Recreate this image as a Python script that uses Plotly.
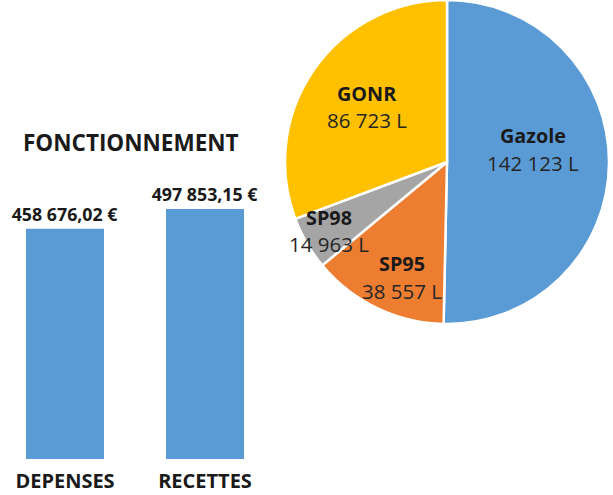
import math
import plotly.graph_objects as go

# ---- data ----
bar_categories = ["DEPENSES", "RECETTES"]
bar_values = [458676.02, 497853.15]
bar_title = "FONCTIONNEMENT"

pie_labels = ["Gazole", "SP95", "SP98", "GONR"]
pie_values = [142123, 38557, 14963, 86723]
pie_value_text = ["142 123 L", "38 557 L", "14 963 L", "86 723 L"]

# ---- style ----
W, H = 613, 495
BLUE = "#5B9BD5"
pie_colors = ["#5B9BD5", "#ED7D31", "#A5A5A5", "#FFC000"]
FONT = "Open Sans"
label_r = [0.536, 0.764, 0.845, 0.598]      # label distance as fraction of radius
label_da = [-9.0, -4.6, 0.0, 0.0]           # angle tweak (degrees)

# pie geometry in pixels
pie_cx, pie_cy, pie_r = 447, 162, 162

fig = go.Figure()

fig.add_trace(go.Bar(
    x=list(range(len(bar_categories))),
    y=bar_values,
    width=78 / 140,
    marker=dict(color=BLUE, line=dict(width=0)),
    texttemplate="<b>%{y:,.2f} €</b>",
    textposition="outside",
    constraintext="none",
    textfont=dict(family=FONT, size=17.8, color="#1a1a1a"),
    cliponaxis=False,
    hoverinfo="skip",
    xaxis="x", yaxis="y",
))

fig.add_trace(go.Pie(
    labels=pie_labels,
    values=pie_values,
    sort=False,
    direction="clockwise",
    rotation=0,
    marker=dict(colors=pie_colors, line=dict(color="white", width=2.5)),
    textinfo="none",
    showlegend=False,
    domain=dict(x=[(pie_cx - pie_r) / W, (pie_cx + pie_r) / W],
                y=[1 - (pie_cy + pie_r) / H, 1 - (pie_cy - pie_r) / H]),
    hoverinfo="label+value",
))

annotations = [dict(
    text="<b>" + bar_title + "</b>", x=130.5 / W, y=1 - 142.5 / H,
    xref="paper", yref="paper", showarrow=False,
    font=dict(family=FONT, size=22.5, color="#1a1a1a"),
    xanchor="center", yanchor="middle",
)]

total = sum(pie_values)
cum = 0
for i, v in enumerate(pie_values):
    mid = (cum + v / 2) / total * 360 + label_da[i]
    cum += v
    rr = label_r[i] * pie_r
    px = pie_cx + rr * math.sin(math.radians(mid))
    py = pie_cy - rr * math.cos(math.radians(mid))
    annotations.append(dict(
        text="<b>" + pie_labels[i] + "</b>", x=px / W, y=1 - py / H,
        xref="paper", yref="paper", showarrow=False, yshift=13.5,
        font=dict(family=FONT, size=19.8, color="#1a1a1a"),
        xanchor="center", yanchor="middle",
    ))
    annotations.append(dict(
        text=pie_value_text[i], x=px / W, y=1 - py / H,
        xref="paper", yref="paper", showarrow=False, yshift=-13.5,
        font=dict(family=FONT, size=20.5, color="#262626"),
        xanchor="center", yanchor="middle",
    ))

fig.update_layout(
    width=W, height=H,
    margin=dict(l=0, r=0, t=0, b=0),
    paper_bgcolor="white", plot_bgcolor="white",
    separators=", ",
    showlegend=False,
    annotations=annotations,
    xaxis=dict(
        domain=[0, 280 / W],
        range=[-65 / 140, (280 - 65) / 140],
        tickvals=list(range(len(bar_categories))),
        ticktext=["<b>" + c + "</b>" for c in bar_categories],
        tickfont=dict(family=FONT, size=20, color="#1a1a1a"),
        showgrid=False, zeroline=False, showline=False, ticks="",
        ticklabelstandoff=8,
    ),
    yaxis=dict(
        domain=[1 - 459 / H, 1 - 100 / H],
        range=[0, 359 * 1992],
        visible=False, showgrid=False, zeroline=False,
    ),
)

fig.write_html(
    "out.html",
    config={"displayModeBar": False},
    post_script="document.body.style.margin='0px';document.body.style.overflow='hidden';",
)
